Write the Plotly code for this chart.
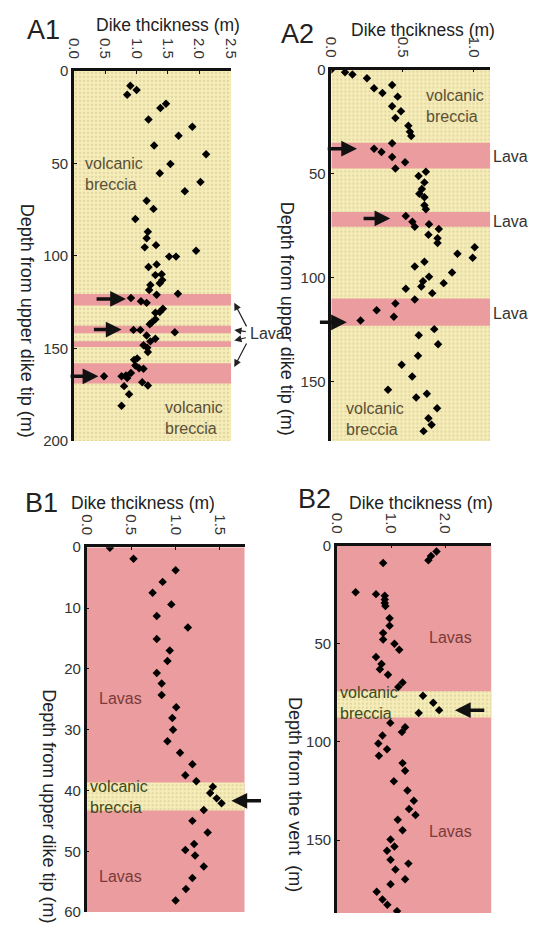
import plotly.graph_objects as go

# ---------------- data ----------------
# A1
a1_depth = [8.1, 10.4, 12.9, 17.8, 20.1, 26.3, 30.2, 35.1, 40.4, 45.1, 50.4, 55.4, 60.1, 65.1,
            70.2, 74.6, 80.1, 87.0, 90.5, 94.2, 95.4, 97.2, 100.4, 100.4, 104.6, 106.0, 109.9,
            110.4, 113.1, 114.8, 115.7, 118.4, 120.5, 121.0, 122.8, 124.5, 125.4, 128.6, 130.3,
            130.7, 134.2, 136.0, 136.9, 140.0, 140.0, 141.3, 143.0, 144.8, 146.2, 148.3, 149.7,
            151.9, 155.4, 156.2, 159.3, 160.7, 161.0, 163.3, 164.6, 165.1, 165.1, 166.0, 168.3,
            170.0, 170.4, 174.8, 181.0]
a1_thick = [0.90, 1.00, 0.85, 1.47, 1.38, 1.19, 1.89, 1.67, 1.28, 2.11, 1.54, 1.37, 2.02, 1.77,
            1.16, 1.27, 0.98, 1.18, 1.16, 1.31, 1.13, 1.95, 1.52, 1.63, 1.32, 1.19, 1.40,
            1.30, 1.41, 1.37, 1.22, 1.20, 1.66, 1.32, 0.91, 1.07, 1.16, 1.42, 1.37,
            1.30, 1.30, 1.24, 1.21, 0.95, 1.06, 1.61, 1.16, 1.30, 1.22, 1.11, 1.17,
            1.18, 1.01, 0.96, 0.98, 1.04, 1.11, 0.91, 0.83, 0.76, 0.48, 0.85, 1.09,
            1.18, 0.80, 0.88, 0.76]
a1_lava = [(120.6, 126.8), (137.7, 141.8), (146.2, 149.2), (158.0, 169.0)]

# A2
a2_depth = [0, 1.3, 2.4, 4.2, 7.4, 9.0, 11.3, 13.0, 17.6, 20.0, 23.3, 27.0, 29.9, 31.9, 35.4,
            38.0, 39.6, 42.0, 44.5, 47.5, 49.1, 51.1, 54.2, 57.4, 59.7, 61.3, 65.2, 67.1, 70.3,
            73.1, 74.3, 75.5, 76.6, 79.4, 81.0, 83.3, 85.4, 88.5, 90.4, 92.3, 94.6, 97.5, 99.5,
            101.7, 102.6, 104.2, 105.3, 107.4, 110.5, 112.4, 115.6, 118.7, 120.6, 124.7, 127.6,
            132.0, 137.5, 141.8, 147.5, 153.8, 155.7, 157.5, 162.7, 167.5, 170.6, 173.7]
a2_thick = [0, 0.096, 0.148, 0.25, 0.427, 0.30, 0.359, 0.466, 0.427, 0.489, 0.45, 0.541, 0.552,
            0.561, 0.427, 0.30, 0.352, 0.427, 0.518, 0.45, 0.664, 0.613, 0.654, 0.636, 0.618,
            0.654, 0.654, 0.664, 0.523, 0.569, 0.686, 0.586, 0.755, 0.682, 0.746, 0.746, 1.007,
            0.886, 0.993, 0.654, 0.586, 0.848, 0.686, 0.644, 0.789, 0.632, 0.523, 0.709, 0.586,
            0.45, 0.318, 0.439, 0.205, 0.723, 0.614, 0.75, 0.609, 0.494, 0.568, 0.398, 0.671,
            0.596, 0.743, 0.682, 0.704, 0.648]
a2_lava = [(35.1, 47.5), (68.4, 75.5), (110.0, 123.1)]

# B1
b1_depth = [0.1, 1.9, 3.8, 5.7, 7.5, 9.4, 11.3, 13.2, 15.1, 17.0, 18.7, 20.7, 22.4, 24.3, 26.3,
            28.1, 30.0, 31.9, 33.8, 35.7, 37.5, 38.5, 39.4, 40.4, 41.3, 42.1, 43.2, 45.0, 46.9,
            48.8, 49.8, 50.7, 52.5, 54.4, 56.2, 58.1]
b1_thick = [0.262, 0.528, 1.002, 0.856, 0.743, 0.954, 0.79, 1.14, 0.79, 0.936, 0.91, 0.79, 0.845,
            0.845, 1.009, 0.965, 0.973, 0.91, 1.052, 1.191, 1.111, 1.235, 1.421, 1.391, 1.464,
            1.519, 1.319, 1.191, 1.363, 1.21, 1.111, 1.221, 1.319, 1.191, 1.118, 1.002]
b1_breccia = [(38.7, 43.3)]

# B2
b2_depth = [3.0, 5.3, 7.5, 8.8, 23.7, 24.7, 25.5, 27.5, 29.2, 30.8, 37.0, 40.8, 44.5, 47.8, 50.0,
            53.0, 56.7, 60.3, 63.0, 65.8, 69.7, 72.0, 76.5, 80.0, 83.8, 85.3, 90.3, 92.5, 95.0,
            96.7, 100.8, 103.7, 107.0, 110.8, 114.7, 120.0, 124.7, 130.0, 134.2, 137.2, 139.7,
            145.0, 149.7, 153.3, 155.5, 160.0, 162.0, 165.0, 170.0, 172.5, 176.3, 180.3, 183.0,
            186.2]
b2_thick = [1.84, 1.738, 1.69, 0.854, 0.346, 0.722, 0.884, 0.884, 0.884, 0.896, 0.973, 0.973,
            0.854, 0.854, 1.063, 1.152, 0.722, 0.824, 0.794, 0.944, 1.213, 1.134, 1.59, 1.78,
            1.888, 1.511, 0.986, 1.26, 1.201, 0.842, 0.765, 0.926, 0.776, 1.213, 1.26, 1.052,
            1.303, 1.421, 1.332, 1.452, 1.124, 1.213, 0.991, 1.063, 0.926, 0.991, 1.321, 1.081,
            1.26, 0.991, 0.735, 0.842, 0.932, 1.111]
b2_breccia = [(74.2, 87.5)]

x_title = "Dike thcikness (m)"
# ---------------- styling ----------------
W, H = 537, 925
YEL = "#f6edb8"
DOT = "#cbc292"
PINK = "#eb9c9e"
FONT = "Liberation Sans, Arial, sans-serif"

def fx(p):
    return p / W

def fy(p):
    return 1 - p / H

panels = {
    "A1": ("x", "y", (68, 230), (63, 440), [0, 2.51], [200, 0], 0.5, 50),
    "A2": ("x2", "y2", (333.3, 497), (61.7, 440), [0, 1.116], [178.4, 0], 0.5, 50),
    "B1": ("x3", "y3", (81, 244), (548.3, 920), [0, 1.78], [60, 0], 0.5, 10),
    "B2": ("x4", "y4", (339, 498.3), (546.7, 921), [0, 2.855], [187.2, 0], 1.0, 50),
}

fig = go.Figure()


def band(xa, ya, xr, y0, y1, pattern):
    kw = dict(x=[xr[0], xr[1], xr[1], xr[0], xr[0]], y=[y0, y0, y1, y1, y0],
              xaxis=xa, yaxis=ya, mode="none", fill="toself", hoverinfo="skip",
              showlegend=False)
    if pattern:
        kw["fillcolor"] = YEL
        kw["fillpattern"] = dict(shape=".", bgcolor=YEL, fgcolor=DOT, size=4, solidity=0.3)
    else:
        kw["fillcolor"] = PINK
    fig.add_trace(go.Scatter(**kw))


def pts(xa, ya, xs, ys):
    fig.add_trace(go.Scatter(x=xs, y=ys, xaxis=xa, yaxis=ya, mode="markers",
                             marker=dict(symbol="diamond", size=6.5, color="black"),
                             hoverinfo="skip", showlegend=False))

xa, ya, _, _, xr, yr, _, _ = panels["A1"]
band(xa, ya, xr, yr[1], yr[0], True)
for a, b in a1_lava:
    band(xa, ya, xr, a, b, False)
pts(xa, ya, a1_thick, a1_depth)

xa, ya, _, _, xr, yr, _, _ = panels["A2"]
band(xa, ya, xr, yr[1], yr[0], True)
for a, b in a2_lava:
    band(xa, ya, xr, a, b, False)
pts(xa, ya, a2_thick, a2_depth)

xa, ya, _, _, xr, yr, _, _ = panels["B1"]
band(xa, ya, xr, yr[1], yr[0], False)
for a, b in b1_breccia:
    band(xa, ya, xr, a, b, True)
pts(xa, ya, b1_thick, b1_depth)

xa, ya, _, _, xr, yr, _, _ = panels["B2"]
band(xa, ya, xr, yr[1], yr[0], False)
for a, b in b2_breccia:
    band(xa, ya, xr, a, b, True)
pts(xa, ya, b2_thick, b2_depth)

layout = dict(width=W, height=H, margin=dict(l=0, r=0, t=0, b=0),
              paper_bgcolor="white", plot_bgcolor="white", showlegend=False,
              font=dict(family=FONT, color="#222", size=15))

for name, (xa, ya, xd, yd, xr, yr, dx, dy) in panels.items():
    xkey = "xaxis" + xa[1:]
    ykey = "yaxis" + ya[1:]
    layout[xkey] = dict(domain=[fx(xd[0]), fx(xd[1])], range=xr, anchor=ya, side="top",
                        dtick=dx, tick0=0, tickformat=".1f", tickangle=90,
                        showline=True, linecolor="#111", linewidth=2.5, showgrid=False,
                        zeroline=False, ticks="inside", ticklen=3, tickcolor="#111",
                        tickfont=dict(size=15, color="#333"), ticklabelstandoff=4)
    layout[ykey] = dict(domain=[fy(yd[1]), fy(yd[0])], range=yr, anchor=xa,
                        dtick=dy, tick0=0, showline=True, linecolor="#111", linewidth=2.5,
                        showgrid=False, zeroline=False, ticks="inside", ticklen=3,
                        tickcolor="#111", tickfont=dict(size=15, color="#333"))

fig.update_layout(**layout)

ann = []


def ptext(x, y, text, size=16, angle=0, color="#222"):
    ann.append(dict(x=fx(x), y=fy(y), xref="paper", yref="paper", text=text, showarrow=False,
                    textangle=angle, font=dict(size=size, color=color, family=FONT),
                    xanchor="center", yanchor="middle"))

ptext(36.5, 21, "A1", 27)
ptext(298, 25, "A2", 27)
ptext(34.5, 503, "B1", 27)
ptext(316, 499, "B2", 27)
ptext(165, 16, x_title, 17.5)
ptext(428, 21, x_title, 17.5)
ptext(139, 503, x_title, 17.5)
ptext(426, 503, x_title, 17.5)
ptext(19, 318, "Depth from upper dike tip (m)", 18, 90)
ptext(287, 316, "Depth from upper dike tip (m)", 18, 90)
ptext(42, 812, "Depth from upper dike tip (m)", 18, 90)
ptext(295, 800, "Depth from the vent  (m)", 18, 90)

BREC = "#5b5036"
LAVC = "#7a3a3a"


def dtext(xa, ya, x, y, text, anchor="left", color=BREC, size=16, xref=None):
    ann.append(dict(x=x, y=y, xref=xref or xa, yref=ya, text=text, showarrow=False,
                    xanchor=anchor, yanchor="middle", align="left",
                    font=dict(size=size, color=color, family=FONT)))

dtext("x", "y", 0.15, 55.5, "volcanic<br>breccia")
dtext("x", "y", 1.92, 187.5, "volcanic<br>breccia", anchor="center")
dtext("x", "y", 1.105, 142, "Lava", color="#333", xref="x domain")
dtext("x2", "y2", 0.87, 17.5, "volcanic<br>breccia", anchor="center")
dtext("x2", "y2", 0.087, 168, "volcanic<br>breccia")
for yv in [41.6, 73, 117]:
    dtext("x2", "y2", 1.006, yv, "Lava", color="#333", xref="x2 domain")
dtext("x3", "y3", 0.12, 24.9, "Lavas", color=LAVC)
dtext("x3", "y3", 0.12, 54.1, "Lavas", color=LAVC)
dtext("x3", "y3", 0.02, 41.0, "volcanic<br>breccia", color="#3e4a1e")
dtext("x4", "y4", 2.09, 47, "Lavas", anchor="center", color=LAVC)
dtext("x4", "y4", 2.09, 145.5, "Lavas", anchor="center", color=LAVC)
dtext("x4", "y4", 0.02, 80.3, "volcanic<br>breccia", color="#3e4a1e")


def big_arrow(xa, ya, hx, hy, tx, ty):
    ann.append(dict(x=hx, y=hy, ax=tx, ay=ty, xref=xa, yref=ya, axref=xa, ayref=ya,
                    showarrow=True, arrowhead=2, arrowsize=0.9, arrowwidth=3.5,
                    arrowcolor="#111", text=""))

big_arrow("x", "y", 0.83, 123.3, 0.337, 123.3)
big_arrow("x", "y", 0.76, 139.8, 0.295, 139.8)
big_arrow("x", "y", 0.39, 165.1, -0.078, 165.1)
big_arrow("x2", "y2", 0.18, 38.0, -0.036, 38.0)
big_arrow("x2", "y2", 0.414, 71.5, 0.216, 71.5)
big_arrow("x2", "y2", 0.109, 121.4, -0.091, 121.4)
big_arrow("x3", "y3", 1.63, 41.7, 1.98, 41.7)
big_arrow("x4", "y4", 2.18, 83.8, 2.75, 83.8)

for hy, ay in [(125.4, 25), (140.0, 2), (145.7, -3), (160.0, -25)]:
    ann.append(dict(x=1.02, y=hy, xref="x domain", yref="y", ax=13, ay=ay,
                    showarrow=True, arrowhead=2, arrowsize=1.2, arrowwidth=1.2,
                    arrowcolor="#222", text=""))

fig.update_layout(annotations=ann)
fig.write_html("out.html", config={"displayModeBar": False},
               post_script="document.body.style.margin='0';document.body.style.overflow='hidden';")
